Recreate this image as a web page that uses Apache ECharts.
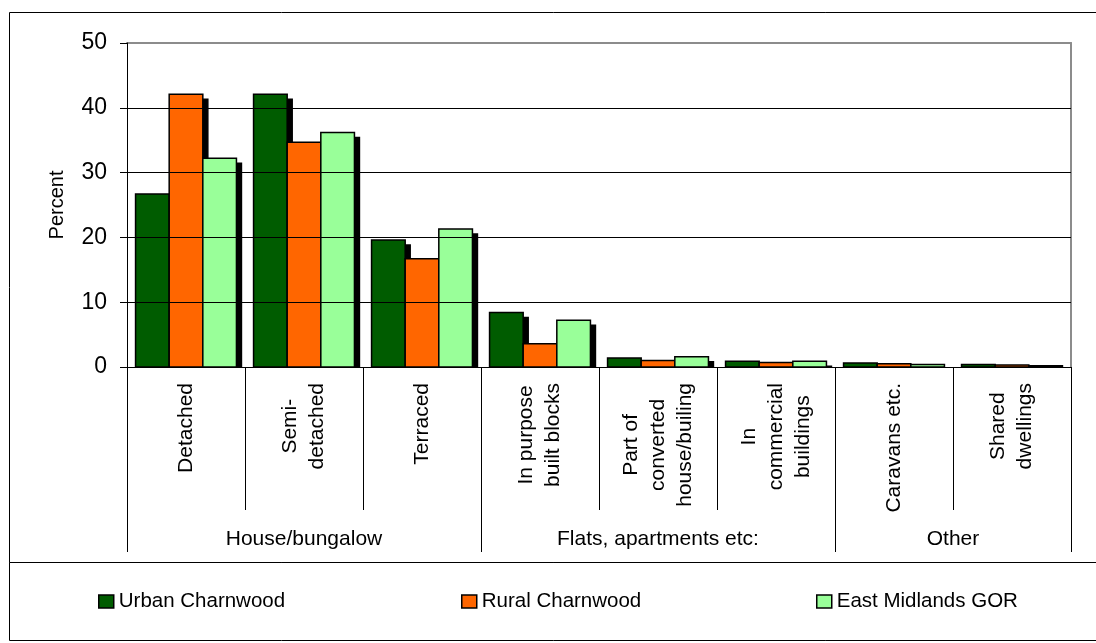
<!DOCTYPE html>
<html><head><meta charset="utf-8">
<script src="https://cdn.jsdelivr.net/npm/echarts@6/dist/echarts.min.js"></script>
<style>html,body{margin:0;padding:0;background:#fff}#c{width:1096px;height:643px}</style>
</head><body><div id="c"></div>
<script>
const categories = ['Detached', 'Semi-\ndetached', 'Terraced', 'In purpose\nbuilt blocks',
  'Part of\nconverted\nhouse/builing', 'In\ncommercial\nbuildings', 'Caravans etc.', 'Shared\ndwellings'];
const seriesNames = ['Urban Charnwood', 'Rural Charnwood', 'East Midlands GOR'];
const urban = [26.7, 42.1, 19.6, 8.4, 1.4, 0.9, 0.6, 0.4];
const rural = [42.1, 34.7, 16.7, 3.6, 1.0, 0.7, 0.5, 0.3];
const eastMidlands = [32.2, 36.2, 21.3, 7.2, 1.6, 0.9, 0.4, 0.2];
const groupNames = ['House/bungalow', 'Flats, apartments etc:', 'Other'];
const groupSizes = [3, 3, 2];
const yTicks = [0, 10, 20, 30, 40, 50];

const groupBounds = [0];
groupSizes.forEach(s => groupBounds.push(groupBounds[groupBounds.length - 1] + s));
const groupCenters = groupSizes.map((s, i) => groupBounds[i] + s / 2);

const FONT = '"Liberation Sans", Arial, sans-serif';
const colors = ['#005c00', '#ff6600', '#99ff99'];
const values = [urban, rural, eastMidlands];
const BAR_FRACTION = 0.855;
const SHADOW = 5;

function makeRender(si) {
  return function (params, api) {
    const ci = api.value(0), v = api.value(1);
    const base = api.coord([ci, 0]);
    const top = api.coord([ci, v]);
    const band = api.size([1, 0])[0];
    const groupW = band * BAR_FRACTION;
    const bw = groupW / seriesNames.length;
    const x = base[0] - groupW / 2 + si * bw;
    const h = base[1] - top[1];
    return {
      type: 'group',
      children: [
        {type: 'rect', shape: {x: x + SHADOW, y: top[1] + SHADOW, width: bw, height: h},
          style: {fill: '#000', stroke: '#000', lineWidth: 1.5}},
        {type: 'rect', shape: {x: x, y: top[1], width: bw, height: h},
          style: {fill: colors[si], stroke: '#000', lineWidth: 1.5}}
      ]
    };
  };
}

const chart = echarts.init(document.getElementById('c'), null, {renderer: 'canvas'});
chart.setOption({
  animation: false,
  textStyle: {fontFamily: FONT, color: '#000'},
  grid: {left: 127, right: 25, top: 43, bottom: 276, show: false, outerBoundsMode: 'none'},
  graphic: [
    {type: 'rect', z: 0, silent: true, shape: {x: 9.5, y: 12.5, width: 1100, height: 550}, style: {fill: 'none', stroke: '#000', lineWidth: 1}},
    {type: 'rect', z: 0, silent: true, shape: {x: 9.5, y: 562.5, width: 1100, height: 78}, style: {fill: 'none', stroke: '#000', lineWidth: 1}},
    {type: 'rect', z: 5, silent: true, shape: {x: 126, y: 368, width: 950, height: 8}, style: {fill: '#fff'}}
  ],
  legend: seriesNames.map((n, i) => ({
    data: [n], left: [98, 461, 816][i], top: 591, padding: 0,
    itemWidth: 15, itemHeight: 13, icon: 'rect',
    selectedMode: false,
    itemStyle: {borderColor: '#000', borderWidth: 1.5},
    textStyle: {fontSize: 20.5, color: '#000', fontFamily: FONT}
  })),
  xAxis: [
    {
      type: 'category', data: categories, position: 'bottom', z: 10,
      axisLine: {show: true, lineStyle: {color: '#000', width: 1}},
      axisTick: {show: true, interval: 0, length: 143, lineStyle: {color: '#000', width: 1}},
      axisLabel: {
        interval: 0, rotate: 90, margin: 16, color: '#000', fontSize: 21, fontFamily: FONT, lineHeight: 27,
        formatter: v => v.split('\n').map(l => '{c|' + l + '}').join('\n'),
        rich: {c: {align: 'center', fontSize: 21, fontFamily: FONT, color: '#000', lineHeight: 27}}
      },
      splitLine: {show: false}
    },
    {
      type: 'value', min: 0, max: groupBounds[groupBounds.length - 1], position: 'bottom', z: 10,
      axisLine: {show: false},
      axisTick: {show: true, customValues: groupBounds, length: 185, lineStyle: {color: '#000', width: 1}},
      axisLabel: {
        customValues: groupCenters, margin: 162, fontSize: 21, color: '#000', fontFamily: FONT,
        formatter: v => groupNames[groupCenters.indexOf(v)] || ''
      },
      splitLine: {show: false}
    },
    {
      type: 'category', data: categories, position: 'top',
      axisLine: {show: true, lineStyle: {color: '#8c8c8c', width: 2}},
      axisTick: {show: false}, axisLabel: {show: false}, splitLine: {show: false}
    }
  ],
  yAxis: [
    {
      type: 'value', min: yTicks[0], max: yTicks[yTicks.length - 1], interval: yTicks[1] - yTicks[0],
      position: 'left', z: 10,
      name: 'Percent', nameLocation: 'middle', nameRotate: 90, nameGap: 60,
      nameTextStyle: {fontSize: 20, color: '#000', fontFamily: FONT},
      axisLine: {show: true, lineStyle: {color: '#000', width: 1}},
      axisTick: {show: true, length: 7, lineStyle: {color: '#000'}},
      axisLabel: {margin: 20, fontSize: 23, color: '#000', fontFamily: FONT},
      splitLine: {show: true, showMinLine: false, showMaxLine: false, lineStyle: {color: '#000', width: 1}}
    },
    {
      type: 'value', min: yTicks[0], max: yTicks[yTicks.length - 1], position: 'right',
      axisLine: {show: true, lineStyle: {color: '#8c8c8c', width: 2}},
      axisTick: {show: false}, axisLabel: {show: false}, splitLine: {show: false}
    }
  ],
  series: seriesNames.map((n, i) => ({
    type: 'custom', name: n, xAxisIndex: 0, yAxisIndex: 0, clip: true,
    data: values[i].map((v, ci) => [ci, v]),
    encode: {x: 0, y: 1},
    itemStyle: {color: colors[i], borderColor: '#000', borderWidth: 1.5},
    renderItem: makeRender(i),
    emphasis: {disabled: true}
  }))
});
</script></body></html>
